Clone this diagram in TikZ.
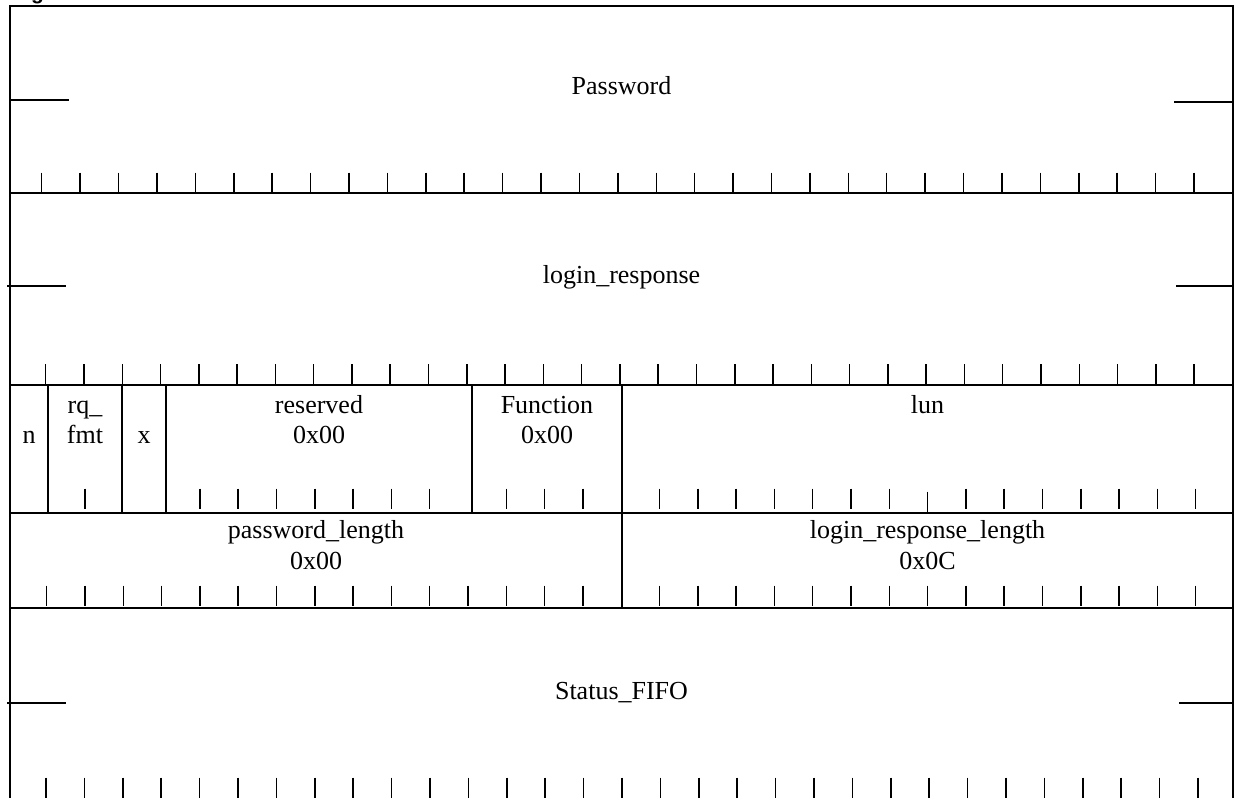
\documentclass[tikz,border=0pt]{standalone}
\usepackage{fontspec}
\setmainfont{Liberation Serif}
\newfontfamily\capfont{Liberation Sans}
\begin{document}
\begin{tikzpicture}[x=0.5pt,y=-0.5pt,
  frameline/.style={line width=1pt},
  tickline/.style={line width=0.75pt},
  stubline/.style={line width=0.85pt},
  lbl/.style={font=\fontsize{13pt}{15pt}\selectfont, anchor=base, inner sep=0pt}]
\clip (0,0) rectangle (1235,797);
\fill[white] (0,0) rectangle (1235,797);
\node[anchor=base west, inner sep=0pt, font=\capfont\bfseries\fontsize{10.5pt}{12pt}\selectfont] (cap) at (12,-0.5) {Figure};
% frame
\draw[frameline] (10,830) -- (10,6) -- (1233,6) -- (1233,830);
\foreach \y in {193.3,385,512.7,607.7} \draw[frameline] (10,\y) -- (1233,\y);
% field dividers
\foreach \x in {48.3,122,166,472,621.7} \draw[frameline] (\x,385) -- (\x,512.7);
\draw[frameline] (621.7,512.7) -- (621.7,607.7);
% row 1 ticks
\foreach \k in {0,...,30} \draw[tickline] ({41.7+38.41*\k},172.5) -- ++(0,20);
% row 2 ticks
\foreach \k in {0,...,30} \draw[tickline] ({45.7+38.28*\k},364) -- ++(0,20.5);
% row 3 ticks
\foreach \k in {1,4,5,6,7,8,9,10,12,13,14,16,17,18,19,20,21,22,24,25,26,27,28,29,30}
  \draw[tickline] ({46.7+38.3*\k},488.5) -- ++(0,20);
\draw[tickline] ({46.7+38.3*23},491.5) -- ++(0,20.5);
% row 4 ticks
\foreach \k in {0,1,2,3,4,5,6,7,8,9,10,11,12,13,14,16,17,18,19,20,21,22,23,24,25,26,27,28,29,30}
  \draw[tickline] ({46.7+38.3*\k},585.5) -- ++(0,20.5);
% row 5 ticks
\foreach \k in {0,...,30} \draw[tickline] ({46+38.4*\k},777.5) -- ++(0,30);
% stubs
\draw[stubline] (10,99.7) -- (69.3,99.7);
\draw[stubline] (1174.3,101.7) -- (1233,101.7);
\draw[stubline] (7.3,285.7) -- (65.7,285.7);
\draw[stubline] (1176,285.7) -- (1233,285.7);
\draw[stubline] (7.3,703) -- (66,703);
\draw[stubline] (1179,703) -- (1233,703);
% labels
\node[lbl] (pw) at (621.5,95) {Password};
\node[lbl] (lr) at (621.5,283) {login\_response};
\node[lbl] (n) at (29.2,443) {n};
\node[lbl] (rq1) at (85,413) {rq\_};
\node[lbl] (rq2) at (85,443) {fmt};
\node[lbl] (xx) at (144,443) {x};
\node[lbl] (res1) at (319,413) {reserved};
\node[lbl] (res2) at (319,443) {0x00};
\node[lbl] (fn1) at (547,413) {Function};
\node[lbl] (fn2) at (547,443) {0x00};
\node[lbl] (lun) at (927.5,413) {lun};
\node[lbl] (pl1) at (316,538) {password\_length};
\node[lbl] (pl2) at (316,569) {0x00};
\node[lbl] (lrl1) at (927.5,538) {login\_response\_length};
\node[lbl] (lrl2) at (927.5,569) {0x0C};
\node[lbl] (sf) at (621.5,699) {Status\_FIFO};
\end{tikzpicture}
\end{document}
